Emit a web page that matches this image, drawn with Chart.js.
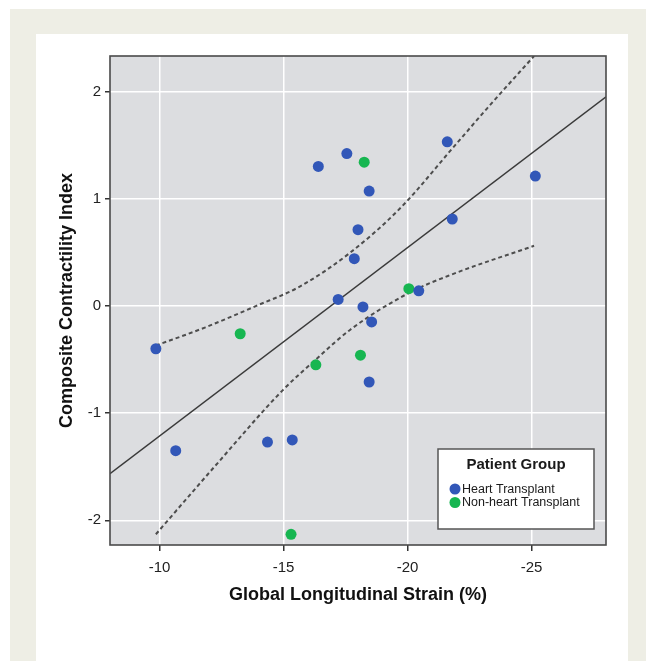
<!DOCTYPE html>
<html>
<head>
<meta charset="utf-8">
<script src="https://cdn.jsdelivr.net/npm/chart.js@4.4.0/dist/chart.umd.min.js"></script>
<style>
  html, body { margin: 0; padding: 0; background: #ffffff; }
  #wrap { width: 656px; height: 661px; }
</style>
</head>
<body>
<div id="wrap"><canvas id="strainChart" width="656" height="661"></canvas></div>
<script>

// patient points (x = GLS %, y = composite index)
var heartStrain = [-16.4, -17.55, -18.45, -18.0, -17.85, -17.2, -18.2, -18.55, -21.6, -25.15, -21.8, -20.45, -9.85, -18.45, -10.65, -14.35, -15.35];
var heartIndex  = [1.30, 1.42, 1.07, 0.71, 0.44, 0.06, -0.01, -0.15, 1.53, 1.21, 0.81, 0.14, -0.40, -0.71, -1.35, -1.27, -1.25];
var nonHeartStrain = [-18.25, -13.25, -20.05, -16.3, -18.1, -15.3];
var nonHeartIndex  = [1.34, -0.26, 0.16, -0.55, -0.46, -2.13];

// fit line and its confidence band
var fitStrain = [-8, -28];
var fitIndex  = [-1.565, 1.95];
var upperStrain = [-9.85, -11.85, -13.9, -15.65, -17.65, -19.7, -21.85, -23.2, -25.1];
var upperIndex  = [-0.37, -0.2, 0.0, 0.18, 0.49, 0.91, 1.48, 1.84, 2.33];
var lowerStrain = [-9.85, -12.25, -14.95, -16.3, -17.7, -20.05, -21.75, -25.1];
var lowerIndex  = [-2.13, -1.49, -0.79, -0.50, -0.22, 0.12, 0.29, 0.56];

var xTicks = [-10, -15, -20, -25];
var yTicks = [-2, -1, 0, 1, 2];

var groupLabels = ["Heart Transplant", "Non-heart Transplant"];
var groupColors = ["#3257b8", "#17b651"];

function pairs(xs, ys){
  var out = [];
  for (var i = 0; i < xs.length; i++) {
    out.push({x: xs[i], y: ys[i]});
  }
  return out;
}

var framePlugin = {
  id: 'frame',
  beforeDraw: function(chart){
    var ctx = chart.ctx;
    var a = chart.chartArea;
    ctx.save();
    ctx.fillStyle = '#ffffff';
    ctx.fillRect(0, 0, chart.width, chart.height);
    ctx.fillStyle = '#eeeee5';
    ctx.fillRect(10, 9, 636, 652);
    ctx.fillStyle = '#ffffff';
    ctx.fillRect(36, 34, 592, 627);
    ctx.fillStyle = '#dcdde0';
    ctx.fillRect(a.left, a.top, a.right - a.left, a.bottom - a.top);
    ctx.restore();
  },
  afterDraw: function(chart){
    var ctx = chart.ctx;
    var a = chart.chartArea;
    ctx.save();
    ctx.strokeStyle = '#4a4a4a';
    ctx.lineWidth = 1.6;
    ctx.strokeRect(a.left, a.top, a.right - a.left, a.bottom - a.top);

    // legend box inside the plot
    var bx = 438, by = 449, bw = 156, bh = 80;
    ctx.fillStyle = '#ffffff';
    ctx.fillRect(bx, by, bw, bh);
    ctx.strokeStyle = '#555555';
    ctx.lineWidth = 1.5;
    ctx.strokeRect(bx, by, bw, bh);
    ctx.fillStyle = '#1a1a1a';
    ctx.font = 'bold 15px "Liberation Sans", Arial, sans-serif';
    ctx.textAlign = 'center';
    ctx.textBaseline = 'middle';
    ctx.fillText('Patient Group', bx + bw / 2, by + 16);
    ctx.font = '12.5px "Liberation Sans", Arial, sans-serif';
    ctx.textAlign = 'left';
    for (var i = 0; i < 2; i++) {
      var ds = chart.data.datasets[i];
      var cy = by + 40 + i * 13.5;
      ctx.beginPath();
      ctx.arc(bx + 17, cy, 5.5, 0, Math.PI * 2);
      ctx.fillStyle = ds.backgroundColor;
      ctx.fill();
      ctx.fillStyle = '#1a1a1a';
      ctx.fillText(ds.label, bx + 24, cy + 0.5);
    }
    ctx.restore();
  }
};

function drawChart(){
  var ctx = document.getElementById('strainChart').getContext('2d');
  var dashLine = {
    type: 'line',
    borderColor: '#4d4d4d',
    borderWidth: 2,
    borderDash: [4, 3],
    pointRadius: 0,
    fill: false,
    showLine: true,
    cubicInterpolationMode: 'monotone'
  };

  new Chart(ctx, {
    type: 'scatter',
    data: {
      datasets: [
        {
          label: groupLabels[0],
          data: pairs(heartStrain, heartIndex),
          backgroundColor: groupColors[0],
          borderColor: groupColors[0],
          pointRadius: 5.5,
          borderWidth: 0
        },
        {
          label: groupLabels[1],
          data: pairs(nonHeartStrain, nonHeartIndex),
          backgroundColor: groupColors[1],
          borderColor: groupColors[1],
          pointRadius: 5.5,
          borderWidth: 0
        },
        {
          type: 'line',
          label: 'Fit',
          data: pairs(fitStrain, fitIndex),
          borderColor: '#3a3a3a',
          borderWidth: 1.4,
          pointRadius: 0,
          fill: false
        },
        Object.assign({label: 'Upper 95% CI', data: pairs(upperStrain, upperIndex)}, dashLine),
        Object.assign({label: 'Lower 95% CI', data: pairs(lowerStrain, lowerIndex)}, dashLine)
      ]
    },
    options: {
      responsive: false,
      animation: false,
      layout: { padding: { top: 56, right: 50, bottom: 0, left: 0 } },
      plugins: {
        legend: { display: false },
        tooltip: { enabled: false }
      },
      scales: {
        x: {
          type: 'linear',
          reverse: true,
          min: -28,
          max: -8,
          afterFit: function(scale){ scale.height = 116; },
          afterBuildTicks: function(scale){ scale.ticks = xTicks.map(function(v){ return {value: v}; }); },
          grid: { color: '#ffffff', lineWidth: 1.5, tickColor: '#333333', tickLength: 6, drawTicks: true },
          border: { display: false },
          ticks: {
            color: '#222222',
            padding: 8,
            font: { family: '"Liberation Sans", Arial, sans-serif', size: 15 }
          },
          title: {
            display: true,
            text: 'Global Longitudinal Strain (%)',
            color: '#111111',
            padding: { top: 0, bottom: 55 },
            font: { family: '"Liberation Sans", Arial, sans-serif', size: 18, weight: 'bold' }
          }
        },
        y: {
          type: 'linear',
          min: -2.23,
          max: 2.33,
          afterFit: function(scale){ scale.width = 110; },
          afterBuildTicks: function(scale){ scale.ticks = yTicks.map(function(v){ return {value: v}; }); },
          grid: { color: '#ffffff', lineWidth: 1.5, tickColor: '#333333', tickLength: 5, drawTicks: true },
          border: { display: false },
          ticks: {
            color: '#222222',
            padding: 4,
            font: { family: '"Liberation Sans", Arial, sans-serif', size: 15 }
          },
          title: {
            display: true,
            text: 'Composite Contractility Index',
            color: '#111111',
            padding: { top: 56, bottom: 0 },
            font: { family: '"Liberation Sans", Arial, sans-serif', size: 18, weight: 'bold' }
          }
        }
      }
    },
    plugins: [framePlugin]
  });
}

drawChart();
</script>
</body>
</html>
